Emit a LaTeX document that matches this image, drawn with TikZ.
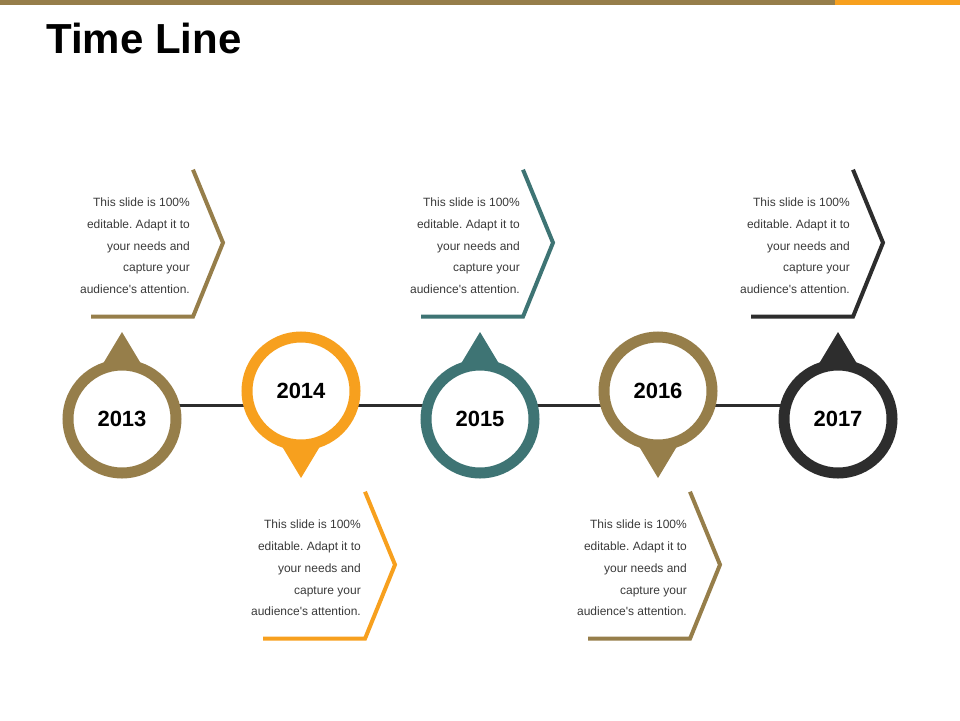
\documentclass[tikz,border=0pt]{standalone}
\usepackage{fontspec}
\setmainfont{Liberation Sans}
\usepackage{tikz}
\usetikzlibrary{backgrounds}
\definecolor{tlbrown}{RGB}{150,126,74}
\definecolor{tlorange}{RGB}{247,160,30}
\definecolor{tlteal}{RGB}{62,116,116}
\definecolor{tldark}{RGB}{45,45,45}
\definecolor{tltext}{RGB}{58,58,58}
\pgfdeclarelayer{edgelayer}
\pgfdeclarelayer{nodelayer}
\pgfsetlayers{edgelayer,nodelayer,main}
\frenchspacing
\tikzstyle{none}=[inner sep=0pt]
\tikzstyle{year}=[circle,fill=white,line width=11,minimum size=108,inner sep=0pt,font=\fontsize{22}{24}\selectfont\bfseries]
\tikzstyle{axis}=[-,draw=tldark,line width=3]
\tikzstyle{bracket}=[-,line width=4,line join=miter]
\tikzstyle{note}=[inner sep=0pt,anchor=north east,align=right,text=tltext,font=\fontsize{12}{21.8}\selectfont]
\tikzstyle{title}=[inner sep=0pt,anchor=base west,font=\fontsize{42}{46}\selectfont\bfseries]

\begin{document}
\begin{tikzpicture}[x=1pt,y=-1pt]
	\useasboundingbox (0,0) rectangle (960,720);
	\fill [tlbrown] (0,0) rectangle (835,4.5);
	\fill [tlorange] (835,0) rectangle (960,4.5);
	\node [style=title] (head) at (46,53) {Time Line};
	\begin{pgfonlayer}{nodelayer}
		\node [style=year, draw=tlbrown] (c13) at (122,419) {2013};
		\node [style=year, draw=tlorange] (c14) at (301,391) {2014};
		\node [style=year, draw=tlteal] (c15) at (480,419) {2015};
		\node [style=year, draw=tlbrown] (c16) at (658,391) {2016};
		\node [style=year, draw=tldark] (c17) at (838,419) {2017};

		\node [style=none] (L) at (122,405) {};
		\node [style=none] (R) at (838,405) {};

		% upper brackets
		\node [style=note] (t13) at (190,197.7) {This slide is 100\%\\editable. Adapt it to\\your needs and\\capture your\\audience\textquotesingle s attention.};
		\node [style=note] (t15) at (520,197.7) {This slide is 100\%\\editable. Adapt it to\\your needs and\\capture your\\audience\textquotesingle s attention.};
		\node [style=note] (t17) at (850,197.7) {This slide is 100\%\\editable. Adapt it to\\your needs and\\capture your\\audience\textquotesingle s attention.};
		% lower brackets
		\node [style=note] (t14) at (361,519.7) {This slide is 100\%\\editable. Adapt it to\\your needs and\\capture your\\audience\textquotesingle s attention.};
		\node [style=note] (t16) at (687,519.7) {This slide is 100\%\\editable. Adapt it to\\your needs and\\capture your\\audience\textquotesingle s attention.};
	\end{pgfonlayer}
	\begin{pgfonlayer}{edgelayer}
		\draw [style=axis] (L.center) to (R.center);
		\fill [tlbrown] (c13.center) ++(-24,-47) -- ++(24,-40) -- ++(24,40) -- cycle;
		\fill [tlorange] (c14.center) ++(-24,47) -- ++(24,40) -- ++(24,-40) -- cycle;
		\fill [tlteal] (c15.center) ++(-24,-47) -- ++(24,-40) -- ++(24,40) -- cycle;
		\fill [tlbrown] (c16.center) ++(-24,47) -- ++(24,40) -- ++(24,-40) -- cycle;
		\fill [tldark] (c17.center) ++(-24,-47) -- ++(24,-40) -- ++(24,40) -- cycle;

		\draw [style=bracket, draw=tlbrown] (t13.north east) ++(3,-28) -- ++(30,73) -- ++(-30,74) -- ++(-102,0);
		\draw [style=bracket, draw=tlteal] (t15.north east) ++(3,-28) -- ++(30,73) -- ++(-30,74) -- ++(-102,0);
		\draw [style=bracket, draw=tldark] (t17.north east) ++(3,-28) -- ++(30,73) -- ++(-30,74) -- ++(-102,0);
		\draw [style=bracket, draw=tlorange] (t14.north east) ++(4,-28) -- ++(30,73) -- ++(-30,74) -- ++(-102,0);
		\draw [style=bracket, draw=tlbrown] (t16.north east) ++(3,-28) -- ++(30,73) -- ++(-30,74) -- ++(-102,0);
	\end{pgfonlayer}
\end{tikzpicture}
\end{document}
